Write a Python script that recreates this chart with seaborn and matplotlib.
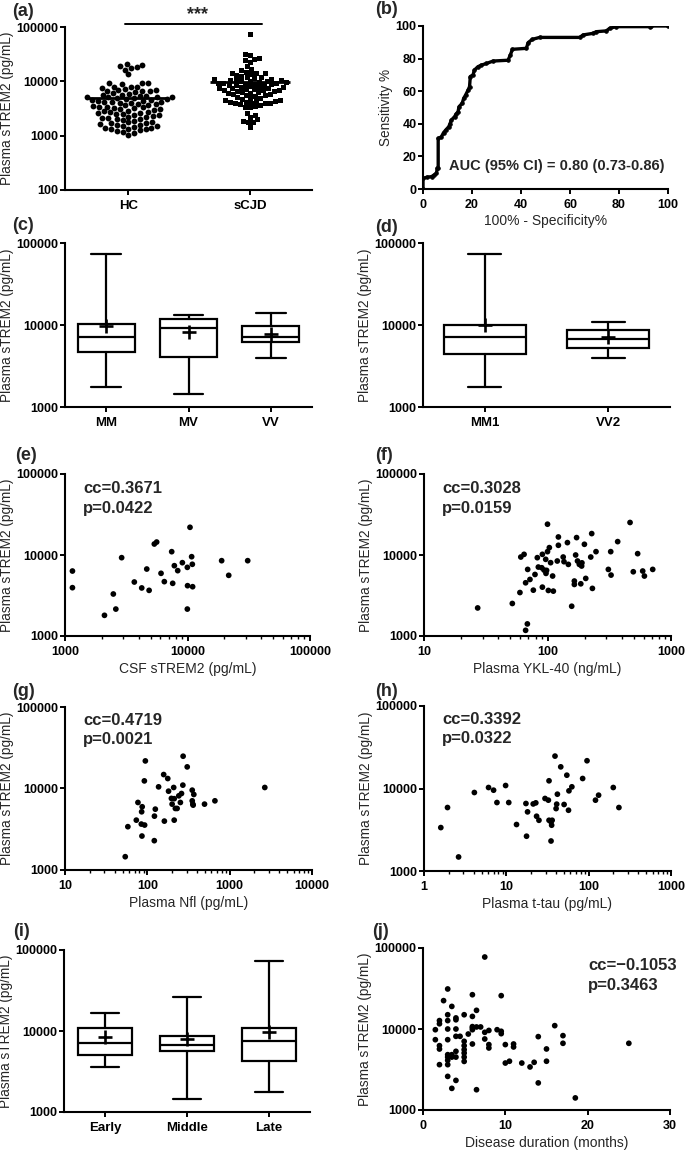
import matplotlib
matplotlib.use('Agg')
import matplotlib.pyplot as plt
import matplotlib.ticker as mticker
import numpy as np
import pandas as pd
import seaborn as sns

sns.set_style('ticks')
plt.rcParams['font.family'] = ['Liberation Sans', 'DejaVu Sans']
plt.rcParams['axes.linewidth'] = 1.5
plt.rcParams['xtick.major.width'] = 1.4
plt.rcParams['ytick.major.width'] = 1.4
plt.rcParams['xtick.minor.width'] = 1.0
plt.rcParams['xtick.major.size'] = 3.5
plt.rcParams['ytick.major.size'] = 3.5
plt.rcParams['xtick.minor.size'] = 2.0
plt.rcParams['ytick.major.pad'] = 1.2
plt.rcParams['xtick.major.pad'] = 3.5
plt.rcParams['xtick.color'] = 'black'
plt.rcParams['ytick.color'] = 'black'
plt.rcParams['axes.edgecolor'] = 'black'

# ---------------- data ----------------
# (a) plasma sTREM2, HC vs sCJD
hc_values = [21000, 20000, 19000, 18000, 17500, 16500, 13500,
             9500, 9400, 9200, 9000,
             8000, 7900, 7800, 7600, 7300,
             6900, 6800, 6700, 6600, 6500, 6300, 6100,
             5900, 5700, 5500, 5400, 5300, 5200, 5150, 5100, 5050, 5000,
             4900, 4800, 4700, 4600, 4500, 4400, 4300, 4200, 4150, 4100, 4050, 4000,
             3900, 3800, 3700, 3600, 3500, 3400, 3350, 3300, 3250, 3200, 3100, 3050, 3000,
             2900, 2800, 2750, 2700, 2650, 2600, 2550, 2500,
             2450, 2400, 2300, 2250, 2200, 2150, 2100, 2050, 2000,
             1950, 1900, 1800, 1750, 1700, 1700, 1650, 1600,
             1550, 1500, 1500, 1450, 1400, 1400, 1350, 1300, 1300, 1250,
             1200, 1150, 1100, 1050]
scjd_values = [75000,
               32000, 30000, 27000, 26000, 25000, 23000, 19500,
               17000, 16000, 15000, 14500, 14000, 14000, 13500, 13000,
               12500, 12000, 12000, 11500, 11000, 11000, 10800, 10500, 10500, 10200, 10000, 10000,
               9800, 9600, 9500, 9400, 9200, 9000, 9000, 8800, 8700, 8500, 8400, 8200, 8000,
               7900, 7800, 7600, 7500, 7400, 7200, 7100, 7000, 6900, 6800, 6700, 6600,
               6400, 6300, 6200, 6000, 5900, 5800, 5600, 5500, 5400, 5200, 5000,
               4900, 4800, 4600, 4500, 4400, 4300, 4200, 4100, 4050, 4000, 4000, 3950,
               3800, 3600, 3500, 3400, 3300,
               2600, 2400, 2200, 2000, 1900, 1800, 1750, 1450]

# (b) ROC curve
roc_fpr = [0, 0, 1.5, 3.5, 4.5, 5.5, 5.8, 6.2, 6.2, 7.5, 8.4, 9.3, 10.5, 11.0, 11.6, 12.9,
           13.5, 14.3, 14.7, 16.0, 16.6, 17.4, 18.4, 19.0, 19.3, 20.4, 21.0, 22.4, 23.8,
           25.9, 28.6, 34.7, 35.6, 36.5, 42.2, 42.9, 44.6, 47.6, 64.0, 65.3, 69.4, 70.7,
           74.8, 76.2, 78.9, 92.5, 93.0, 100]
roc_tpr = [0, 6.5, 7.2, 7.6, 8.6, 9.6, 12.7, 12.7, 31, 32, 34.6, 36.2, 38.2, 40, 42.3, 44.4,
           46, 47.4, 50.5, 52.6, 55.6, 57.7, 60.7, 62.8, 69, 70, 73, 75, 76,
           77, 78.5, 79, 82, 85.7, 86.3, 89.8, 91.8, 93, 93, 94.5, 95.5, 96.5,
           97, 98.6, 99.6, 99.6, 100, 100]

# (c) codon 129 genotype box summaries
codon_labels = ['MM', 'MV', 'VV']
codon_min = [1770, 1440, 3980]
codon_q1 = [4620, 4090, 6140]
codon_med = [7130, 9100, 7070]
codon_q3 = [10400, 11840, 9820]
codon_max = [74000, 13250, 14000]
codon_mean = [9800, 8280, 7830]

# (d) subtype box summaries
subtype_labels = ['MM1', 'VV2']
subtype_min = [1760, 4000]
subtype_q1 = [4450, 5260]
subtype_med = [7050, 6790]
subtype_q3 = [10100, 8680]
subtype_max = [74000, 10900]
subtype_mean = [9900, 7110]

# (e) CSF sTREM2 vs plasma sTREM2
csf_strem2 = [1150, 1150, 2100, 2480, 2600, 2900, 3680, 4230, 4650, 4860, 5360, 5600, 6080,
              6470, 7430, 7570, 7810, 8320, 9080, 9970, 10010, 9970, 10480, 10810, 10950,
              11010, 19000, 21700, 31000]
plasma_e = [6340, 3950, 1800, 3300, 2150, 9270, 4640, 3920, 6710, 3660, 13670, 14450, 5940,
            4690, 10990, 4470, 7380, 6410, 8040, 7040, 4180, 2150, 21980, 9530, 7680,
            4060, 8510, 5610, 8510]

# (f) plasma YKL-40
ykl40 = [27.2, 51.9, 59.8, 60.8, 64.6, 66.5, 66.5, 68.7, 69.1, 72.1, 76.8, 79.2, 82.7, 84.3,
         89.8, 90.9, 90.9, 93.7, 96.7, 97.2, 98.3, 100, 100, 101.6, 103.5, 106, 111.5, 110,
         120, 122.5, 122.5, 134, 136, 145, 147.5, 157, 165, 165, 169, 172, 175, 181, 186,
         189, 190, 199, 204, 224, 228, 231, 247, 311, 327, 325, 370, 466, 537, 495, 590,
         609, 711]
plasma_f = [2220, 2520, 3440, 9440, 10190, 4540, 1175, 1410, 6640, 4990, 3680, 5750, 9270, 7100,
            6960, 4010, 10190, 6520, 8840, 5930, 6460, 24000, 11000, 3650, 12330, 8040, 3580, 5500,
            8430, 16700, 13180, 9440, 8270, 14220, 7660, 2330, 4770, 4330, 10000, 16400, 8430, 7660, 4410,
            7310, 8000, 13560, 5140, 9440, 18380, 3870, 11000, 6640, 5650, 11000, 14630, 25200, 10390, 6210, 6340,
            5500, 6640]

# (g) plasma NfL
nfl = [53.9, 58, 73.5, 76.9, 84.5, 85.3, 86.6, 86, 92.7, 92, 94.6, 125, 122, 121.5, 137, 158,
       161, 177, 181, 196, 200, 209, 212, 219, 212, 230, 241, 252, 260, 270, 272, 305, 351,
       351, 357, 367, 360, 495, 662, 2670]
plasma_g = [1456, 3400, 4090, 6740, 3660, 5180, 5970, 2610, 3560, 12400, 21800, 5580, 4580, 2290,
            10480, 14830, 3980, 13250, 9270, 7560, 6430, 10290, 7500, 5690, 4090, 5690, 8130, 6740,
            8680, 11000, 24900, 18420, 9540, 7060, 6430, 8450, 6250, 6430, 7060, 10290]

# (h) plasma t-tau
ttau = [1.6, 1.93, 2.63, 4.09, 6.08, 7.0, 7.69, 9.8, 10.7, 13.3, 17.3, 17.6, 18.1, 21.2, 22.8,
        23.3, 24.9, 29.5, 32.4, 33, 33, 34.9, 35.5, 34.9, 36, 39, 41.7, 40.9, 40.2, 45.8, 50.3,
        54.3, 56.9, 57.6, 62.5, 84.5, 95.5, 121, 132, 199, 233]
plasma_h = [3360, 5880, 1480, 8940, 10280, 9540, 6760, 10870, 6760, 3660, 6580, 2640, 5210, 6500,
            6700, 4610, 4120, 7570, 7220, 12400, 4120, 3940, 3590, 2310, 4120, 24700, 8530, 6460,
            5710, 18300, 6400, 14500, 5450, 9370, 10480, 13220, 21700, 7220, 8300, 10280, 5880]

# (i) disease stage box summaries
stage_labels = ['Early', 'Middle', 'Late']
stage_min = [3590, 1440, 1770]
stage_q1 = [5050, 5710, 4250]
stage_med = [7180, 6710, 7450]
stage_q3 = [11000, 8590, 10800]
stage_max = [16600, 26100, 74100]
stage_mean = [8350, 7890, 9810]

# (j) disease duration (months)
duration = [1.5, 1.5,
            2.0, 2.0, 2.0, 2.0, 2.0,
            2.5,
            3.0, 3.0, 3.0, 3.0, 3.0, 3.0, 3.0, 3.0, 3.0, 3.0,
            3.5, 3.5, 3.5, 3.5,
            4.0, 4.0, 4.0, 4.0, 4.0, 4.0, 4.0,
            4.5,
            5.0, 5.0, 5.0, 5.0, 5.0, 5.0, 5.0,
            5.5,
            6.0, 6.0, 6.0, 6.0, 6.0, 6.0,
            6.5, 6.5, 6.5,
            7.0,
            7.5, 7.5, 7.5,
            8.0, 8.0, 8.0,
            9.0,
            9.5, 9.5, 9.5,
            10.0, 10.0,
            10.5,
            11.0, 11.0,
            12.0, 13.0, 13.5,
            14.0, 14.0,
            15.0, 15.0,
            16.0,
            17.0, 17.0,
            18.5, 25.0]
plasma_j = [9800, 7380,
            12700, 11600, 6230, 5660, 3630,
            22400,
            31200, 15000, 12700, 10000, 7380, 4820, 4500, 4100, 3630, 2600,
            19000, 4820, 4500, 1850,
            13700, 13000, 10000, 8120, 5300, 4500, 2320,
            8120,
            15000, 7050, 6230, 5560, 5050, 4500, 3980,
            8670,
            26500, 14300, 10700, 10300, 9800, 6530,
            17000, 10600, 1780,
            10600,
            77400, 9100, 7530,
            9600, 6420, 5830,
            9800,
            25800, 9370, 8760,
            6420, 3800,
            4000,
            6530, 6000,
            3800, 3400, 3880,
            8050, 2160,
            5670, 4000,
            11000,
            8280, 6660,
            1410, 6660]

# ---------------- layout ----------------
W, H = 685, 1150
fig = plt.figure(figsize=(W / 100, H / 100), dpi=100)


def add_ax(l, t, r, b):
    return fig.add_axes([l / W, 1 - b / H, (r - l) / W, (b - t) / H])


YLAB = 'Plasma sTREM2 (pg/mL)'
TICK_FS = 9
CAT_FS = 9.5
YLAB_FS = 9.8
XLAB_FS = 10


def log_y(ax, lo=1000):
    ax.set_yscale('log')
    ax.set_ylim(lo, 100000)
    ticks = [v for v in [100, 1000, 10000, 100000] if v >= lo]
    ax.set_yticks(ticks)
    ax.set_yticklabels([str(v) for v in ticks])
    ax.yaxis.set_minor_locator(mticker.NullLocator())
    ax.set_ylabel(YLAB, fontsize=YLAB_FS, labelpad=2)


def finish(ax):
    sns.despine(ax=ax)
    for lab in ax.get_yticklabels():
        lab.set_fontweight('bold')
        lab.set_fontsize(TICK_FS)
    for lab in ax.get_xticklabels():
        lab.set_fontweight('bold')


def log_x(ax, lo, hi):
    ax.set_xscale('log')
    ax.set_xlim(lo, hi)
    ticks = [10 ** k for k in range(int(np.log10(lo)), int(np.log10(hi)) + 1)]
    ax.set_xticks(ticks)
    ax.set_xticklabels([str(int(v)) for v in ticks], fontsize=TICK_FS)
    ax.xaxis.set_minor_locator(mticker.LogLocator(base=10, subs=np.arange(2, 10), numticks=20))
    ax.xaxis.set_minor_formatter(mticker.NullFormatter())


def box_panel(ax, labels, mins, q1s, meds, q3s, maxs, means, width, capw):
    ax.set_yscale('log')
    stats = [dict(label=l, whislo=a, q1=b, med=c, q3=d, whishi=e, mean=m, fliers=[])
             for l, a, b, c, d, e, m in zip(labels, mins, q1s, meds, q3s, maxs, means)]
    ax.bxp(stats, positions=list(range(len(stats))), widths=width, capwidths=capw,
           showmeans=True, showfliers=False, patch_artist=True,
           boxprops=dict(facecolor='white', edgecolor='black', linewidth=1.6),
           medianprops=dict(color='black', linewidth=1.6),
           whiskerprops=dict(color='black', linewidth=1.6),
           capprops=dict(color='black', linewidth=1.6),
           meanprops=dict(marker='+', markersize=10, markeredgecolor='black',
                          markeredgewidth=1.9))
    ax.set_xlim(-0.5, len(stats) - 0.5)
    log_y(ax)
    ax.set_xticks(range(len(stats)))
    ax.set_xticklabels(labels, fontsize=CAT_FS)


def scatter_panel(ax, x, y, cc, p, tx=0.073, ty=0.91):
    sns.scatterplot(x=x, y=y, color='black', s=17, edgecolor='none', ax=ax, zorder=3)
    ax.set_yscale('log')
    log_y(ax)
    ax.text(tx, ty, cc, transform=ax.transAxes, fontsize=12, fontweight='bold', va='center')
    ax.text(tx, ty - 0.12, p, transform=ax.transAxes, fontsize=12, fontweight='bold', va='center')


# (a)
ax = add_ax(65, 27, 312, 190)
df_a = pd.DataFrame({'group': ['HC'] * len(hc_values) + ['sCJD'] * len(scjd_values),
                     'value': hc_values + scjd_values})
sns.swarmplot(data=df_a[df_a.group == 'HC'], x='group', y='value', order=['HC', 'sCJD'],
              marker='o', size=4.2, color='black', log_scale=True, ax=ax, warn_thresh=1)
sns.swarmplot(data=df_a[df_a.group == 'sCJD'], x='group', y='value', order=['HC', 'sCJD'],
              marker='s', size=3.6, color='black', log_scale=True, ax=ax, warn_thresh=1)
for i, vals in enumerate([hc_values, scjd_values]):
    ax.hlines(np.mean(vals), i - 0.33, i + 0.33, color='black', lw=2, zorder=4)
ax.set_xlim(-0.52, 1.51)
log_y(ax, lo=100)
ax.set_xlabel('')
ax.set_xticks([0, 1])
ax.set_xticklabels(['HC', 'sCJD'], fontsize=CAT_FS)
ax.plot([-0.03, 1.1], [1.02, 1.02], transform=ax.get_xaxis_transform(), color='black',
        lw=1.4, clip_on=False)
ax.text(0.565, 1.075, '***', transform=ax.get_xaxis_transform(), ha='center', va='center',
        fontsize=13, fontweight='bold')
finish(ax)

# (b)
ax = add_ax(423, 26, 668, 189)
sns.lineplot(x=roc_fpr, y=roc_tpr, sort=False, estimator=None, color='black', lw=2.4,
             marker='o', markersize=2.5, markeredgecolor='black', ax=ax)
ax.set_xlim(0, 100)
ax.set_ylim(0, 100)
ax.set_xticks(range(0, 101, 20))
ax.set_yticks(range(0, 101, 20))
ax.tick_params(labelsize=TICK_FS)
ax.set_xlabel('100% - Specificity%', fontsize=XLAB_FS, labelpad=2)
ax.set_ylabel('Sensitivity %', fontsize=YLAB_FS, labelpad=2)
ax.text(0.985, 0.14, 'AUC (95% CI) = 0.80 (0.73-0.86)', transform=ax.transAxes, ha='right',
        va='center', fontsize=10.5, fontweight='bold')
finish(ax)

# (c)
ax = add_ax(65, 243, 312, 407)
box_panel(ax, codon_labels, codon_min, codon_q1, codon_med, codon_q3, codon_max, codon_mean,
          0.69, 0.36)
finish(ax)

# (d)
ax = add_ax(423, 243, 670, 407)
box_panel(ax, subtype_labels, subtype_min, subtype_q1, subtype_med, subtype_q3, subtype_max,
          subtype_mean, 0.66, 0.27)
finish(ax)

# (e)
ax = add_ax(65, 474, 310, 636)
scatter_panel(ax, csf_strem2, plasma_e, 'cc=0.3671', 'p=0.0422')
log_x(ax, 1000, 100000)
ax.set_xlabel('CSF sTREM2 (pg/mL)', fontsize=XLAB_FS, labelpad=3)
finish(ax)

# (f)
ax = add_ax(424, 474, 671, 636)
scatter_panel(ax, ykl40, plasma_f, 'cc=0.3028', 'p=0.0159')
log_x(ax, 10, 1000)
ax.set_xlabel('Plasma YKL-40 (ng/mL)', fontsize=XLAB_FS, labelpad=3)
finish(ax)

# (g)
ax = add_ax(65, 707, 312, 870)
scatter_panel(ax, nfl, plasma_g, 'cc=0.4719', 'p=0.0021', ty=0.92)
log_x(ax, 10, 10000)
ax.set_xlabel('Plasma Nfl (pg/mL)', fontsize=XLAB_FS, labelpad=3)
finish(ax)

# (h)
ax = add_ax(424, 706, 671, 871)
scatter_panel(ax, ttau, plasma_h, 'cc=0.3392', 'p=0.0322', ty=0.92)
log_x(ax, 1, 1000)
ax.set_xlabel('Plasma t-tau (pg/mL)', fontsize=XLAB_FS, labelpad=3)
finish(ax)

# (i)
ax = add_ax(64, 950, 310, 1112)
box_panel(ax, stage_labels, stage_min, stage_q1, stage_med, stage_q3, stage_max, stage_mean,
          0.67, 0.35)
finish(ax)

# (j)
ax = add_ax(423, 948, 670, 1110)
scatter_panel(ax, duration, plasma_j, 'cc=\u22120.1053', 'p=0.3463', tx=0.668, ty=0.89)
ax.set_xlim(0, 30)
ax.set_xticks([0, 10, 20, 30])
ax.set_xticklabels(['0', '10', '20', '30'], fontsize=TICK_FS)
ax.set_xlabel('Disease duration (months)', fontsize=XLAB_FS, labelpad=3)
finish(ax)

# panel letters
letters = [('(a)', 12, 12), ('(b)', 375, 10), ('(c)', 12, 226), ('(d)', 375, 227),
           ('(e)', 15, 456), ('(f)', 375, 456), ('(g)', 12, 691), ('(h)', 375, 691),
           ('(i)', 13, 932), ('(j)', 372, 931)]
for txt, px, py in letters:
    fig.text(px / W, 1 - py / H, txt, ha='left', va='center', fontsize=13, fontweight='bold')

fig.savefig('out.png', dpi=100)
